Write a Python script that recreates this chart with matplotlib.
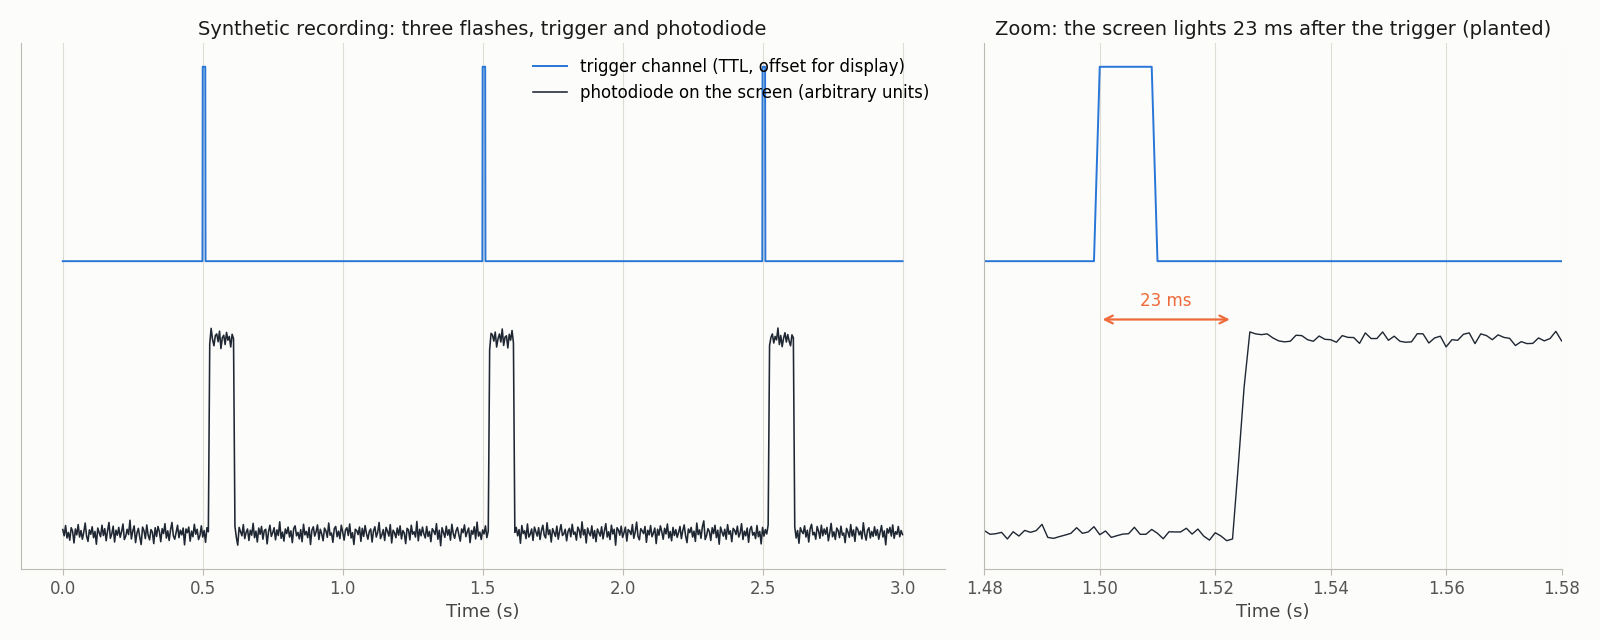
import numpy as np
import matplotlib.pyplot as plt

# trigger pulses (TTL, 1 kHz) and flash timing
trig_on = [0.5, 1.5, 2.5]
trig_width = 0.010
trig_offset = 1.4
flash_on = [0.525, 1.525, 2.525]
flash_off = [0.610, 1.610, 2.610]

# photodiode noise for the overview, one value per 5 ms (units of 0.0016)
pd_noise = [
    12, -8, 25, -15, 3, -22, 18, 7, -31, 14, -5, 28, -12, 9, -19, 4, 33, -9, -26, 11,
    -3, 21, -14, 6, -35, 17, 2, -11, 26, -7, 15, -24, 8, 35, -16, -2, 23, -28, 10, -6,
    19, -13, 5, 30, -20, -9, 13, -4, 42, -18, 7, 24, -30, 1, 16, -12, -36, 20, 9, -17,
    27, -6, -21, 12, 4, -33, 18, -10, 22, 6, -27, 15, -1, 31, -15, 8, -23, 11, 35, -8,
    -19, 3, 26, -14, 10, -5, 17, -37, 14, 2, 20, -25, 7, -11, 29, -3, 13, -20, -7, 24,
    -12, 9, -29, 18, 5, -16, 34, -2, -22, 11, 16, -9, 25, -31, 4, 12, -18, 21, -4, 8,
    -26, 15, 1, 23, -13, -38, 19, 6, -8, 28, -17, 3, 14, -23, 10, -6, 32, -14, 7, -28,
    17, -3, 22, -19, 9, 13, -34, 5, 26, -10, 2, 18, -21, 11, -7, 37, -16, 4, -25, 14,
    -1, 20, -12, 8, -30, 16, 24, -8, 3, -18, 12, -27, 29, -5, 6, -14, 19, -36, 10, 21,
    -9, 5, 27, -20, 13, -2, -24, 17, 8, -13, 33, -6, 1, -29, 15, 22, -11, 7, -17, 26,
    4, -22, 11, 18, -7, 30, -15, 2, -36, 13, 9, -4, 20, -26, 16, -10, 25, -1, -19, 6,
    14, -28, 8, 21, -12, 3, 35, -17, -5, 12, -23, 19, 7, -9, 28, -31, 10, 2, -14, 17,
    -6, 24, -18, 9, 1, -33, 16, 11, -21, 26, -3, 5, -12, 38, -24, 13, -8, 20, -2, -15,
    22, -10, 6, -27, 15, 7, -4, 31, -19, 10, -40, 18, 3, -13, 23, -6, 12, -22, 29, -1,
    -16, 8, 19, -5, -25, 14, 2, 27, -11, 5, 17, -30, 9, -3, 21, -18, 36, -9, 4, -20,
    11, -2, 24, -14, 7, -35, 18, 13, -7, 22, -26, 1, 16, -10, 32, -21, 6, 10, -29, 15,
    -4, 27, -13, 3, 19, -8, 12, -32, 25, -1, 8, -17, 30, -12, -3, 14, -23, 20, 5, -9,
    18, -20, 9, 26, -6, -15, 34, -4, 11, -28, 15, 2, -10, 23, -19, 7, 28, -7, -2, 13,
    -24, 6, 16, -11, 29, -3, 4, -22, 20, 10, -14, 37, -5, 12, -31, 17, 1, -8, 24, -16,
    9, -27, 14, 3, -9, 21, -18, 8, 31, -12, 5, -20, 26, -2, 13, -38, 18, 11, -6, 23,
    -13, 2, 20, -25, 12, 7, -4, 28, -16, 4, 36, -10, -21, 15, 8, -1, 22, -29, 10, -5,
    25, -11, 1, 17, -33, 13, -6, 24, 5, -19, 16, -2, 30, -15, 6, -24, 19, -7, 12, -13,
    3, 22, -17, 9, 27, -8, -30, 14, 2, 19, -12, 7, -26, 33, -4, 11, -16, 21, 40, -20,
    -7, 15, 6, -23, 18, -1, 26, -14, 10, -35, 20, 4, -9, 13, -19, 28, -3, 8, -27, 16,
    10, -4, 23, -12, 1, 31, -20, 7, -8, 17, -29, 12, 22, -6, 3, -17, 25, -11, 6, -34,
    19, -9, 12, -2, 27, -21, 5, 16, -13, 8, -3, 35, -18, 11, -25, 2, 20, -10, 14, -7,
    -22, 13, 4, 21, -15, 9, -32, 18, 6, -1, 24, -12, 10, -28, 15, 29, -5, 3, -19, 22,
    7, -16, 26, -8, 14, -3, 19, -24, 2, 32, -11, 5, -20, 17, 9, -14, 23, -6, 1, -30,
    16, 4, -13, 28, -9, 11, -26, 20, 13, -5, 7, -18, 34, -2, -22, 10, 18, -15, 6, -10,
    21, -7, 12, -19, 3, 25, -12, 8, -37, 15, 1, 19, -9, 27, -16, 5, -3, 22, -11, 9,
    -4,
]
noise_unit = 0.0016

# zoom window 1.480 - 1.580 s, photodiode samples at 1 kHz
zoom_start = 1.480
pd_zoom = [
    0.014, -0.005, -0.002, 0.005, -0.029, 0.008, -0.014, 0.015, 0.005, 0.014,
    0.046, -0.021, -0.026, -0.017, -0.009, 0.000, 0.029, 0.000, 0.007, 0.034,
    -0.007, 0.012, -0.021, -0.012, -0.004, -0.002, 0.031, -0.005, -0.005, 0.020,
    0.000, -0.028, 0.008, 0.007, 0.007, 0.026, -0.004, 0.022, -0.014, -0.035,
    0.003, -0.014, -0.038, -0.029, 0.350, 0.750,
    1.036, 1.026, 1.022, 1.026, 1.005, 0.990, 0.985, 0.988, 1.019, 1.017,
    0.996, 0.988, 1.015, 0.998, 0.996, 0.983, 1.017, 1.008, 1.007, 0.977,
    1.031, 1.002, 1.002, 1.036, 0.993, 1.014, 0.988,
    0.983, 0.985, 1.027, 1.026, 0.979, 1.005, 1.014, 0.959, 0.996, 0.993,
    1.024, 1.031, 0.976, 1.026, 1.017, 0.996, 1.021, 1.008, 1.003, 0.966,
    0.986, 0.976, 0.977, 1.005, 0.990, 1.002, 1.039, 0.990,
]
latency_ms = 23

blue = '#2776d8'
navy = '#1f2733'
orange = '#ef6a3a'
bg = '#fcfcfa'


def ttl(t):
    out = np.full(len(t), trig_offset)
    for a in trig_on:
        out[(t >= a - 1e-9) & (t < a + trig_width - 1e-9)] += 1.0
    return out


t_trig = np.arange(3001) / 1000
trigger = ttl(t_trig)

t_pd = np.round(np.arange(len(pd_noise)) * 0.005, 3)
level = np.zeros(len(t_pd))
for a, b in zip(flash_on, flash_off):
    level[(t_pd >= a - 1e-9) & (t_pd <= b + 1e-9)] = 1.0
photodiode = level + np.array(pd_noise) * noise_unit

t_zoom = zoom_start + np.arange(len(pd_zoom)) / 1000
trigger_zoom = ttl(np.round(t_zoom, 3))

fig, (ax1, ax2) = plt.subplots(1, 2, figsize=(16, 6.4), dpi=100, sharey=True,
                               gridspec_kw={'width_ratios': [1.6, 1]})
fig.patch.set_facecolor(bg)
plt.subplots_adjust(left=0.013, right=0.976, bottom=0.1105, top=0.933, wspace=0.053)

ax1.plot(t_trig, trigger, color=blue, lw=1.4, label='trigger channel (TTL, offset for display)')
ax1.plot(t_pd, photodiode, color=navy, lw=1.15, label='photodiode on the screen (arbitrary units)')
ax1.set_title('Synthetic recording: three flashes, trigger and photodiode', fontsize=14, color='#1a1a1a')
ax1.legend(loc='upper right', frameon=False, fontsize=12)
ax1.set_ylim(-0.185, 2.523)

ax2.plot(t_zoom, trigger_zoom, color=blue, lw=1.4)
ax2.plot(t_zoom, pd_zoom, color=navy, lw=1.0)
ax2.set_xlim(1.48, 1.58)
ax2.set_xticks([1.48, 1.50, 1.52, 1.54, 1.56, 1.58])
ax2.set_title('Zoom: the screen lights %d ms after the trigger (planted)' % latency_ms,
              fontsize=14, color='#1a1a1a')
arrow_y = 1.1
ax2.annotate('', xy=(trig_on[1] + latency_ms / 1000, arrow_y), xytext=(trig_on[1], arrow_y),
             arrowprops=dict(arrowstyle='<->', color=orange, lw=1.6, mutation_scale=14))
ax2.text(trig_on[1] + latency_ms / 2000, arrow_y + 0.05, '%d ms' % latency_ms,
         ha='center', va='bottom', color=orange, fontsize=12)

for ax in (ax1, ax2):
    ax.set_facecolor(bg)
    ax.grid(axis='x', color='#dedcd5', lw=0.8)
    ax.set_axisbelow(True)
    for s in ('top', 'right'):
        ax.spines[s].set_visible(False)
    for s in ('left', 'bottom'):
        ax.spines[s].set_color('#bcbab2')
    ax.tick_params(axis='y', left=False, labelleft=False)
    ax.tick_params(axis='x', colors='#bcbab2', labelcolor='#555555', labelsize=12, length=4)
    ax.set_xlabel('Time (s)', fontsize=13, color='#444444')

plt.savefig('out.png', facecolor=bg)
